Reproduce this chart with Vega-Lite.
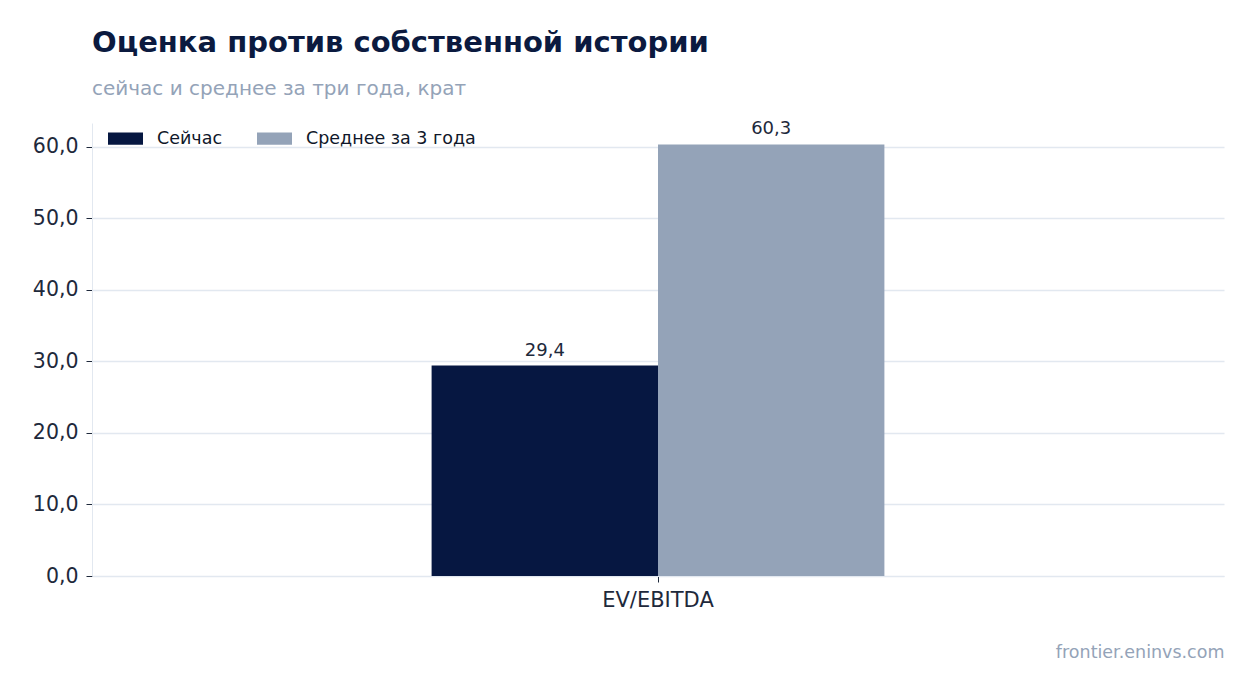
{
  "$schema": "https://vega.github.io/schema/vega-lite/v6.json",
  "width": 1132,
  "height": 453,
  "autosize": "none",
  "padding": {"left": 92, "top": 123, "right": 30, "bottom": 117},
  "title": {
    "text": "Оценка против собственной истории",
    "subtitle": "сейчас и среднее за три года, крат",
    "anchor": "start",
    "frame": "group",
    "font": "DejaVu Sans",
    "fontSize": 29,
    "fontWeight": "bold",
    "color": "#0b1a3f",
    "subtitleFont": "DejaVu Sans",
    "subtitleFontSize": 20,
    "subtitleColor": "#94a3b8",
    "subtitlePadding": 21,
    "offset": 21
  },
  "data": {
    "values": [
      {"metric": "EV/EBITDA", "series": "Сейчас", "value": 29.4},
      {"metric": "EV/EBITDA", "series": "Среднее за 3 года", "value": 60.3}
    ]
  },
  "encoding": {
    "x": {
      "field": "metric",
      "type": "nominal",
      "scale": {"paddingInner": 0, "paddingOuter": 0.75},
      "axis": {
        "labelAngle": 0,
        "labelFont": "DejaVu Sans",
        "labelFontSize": 21,
        "labelColor": "#1e293b",
        "labelPadding": 7,
        "tickColor": "#1e293b",
        "tickSize": 6,
        "domainColor": "#e2e8f0",
        "title": "frontier.eninvs.com",
        "titleAnchor": "end",
        "titleFont": "DejaVu Sans",
        "titleFontSize": 17.5,
        "titleFontWeight": "normal",
        "titleColor": "#94a3b8",
        "titlePadding": 33
      }
    },
    "xOffset": {"field": "series", "type": "nominal", "sort": ["Сейчас", "Среднее за 3 года"]}
  },
  "layer": [
    {
      "mark": {"type": "bar"},
      "encoding": {
        "y": {
          "field": "value",
          "type": "quantitative",
          "scale": {"domain": [0, 63.3], "nice": false},
          "axis": {
            "title": null,
            "values": [0, 10, 20, 30, 40, 50, 60],
            "format": ".1f",
            "labelFont": "DejaVu Sans",
            "labelFontSize": 20.5,
            "labelColor": "#1e293b",
            "labelPadding": 8,
            "tickColor": "#1e293b",
            "tickSize": 6,
            "domainColor": "#e2e8f0",
            "gridColor": "#e2e8f0",
            "gridWidth": 1.3
          }
        },
        "color": {
          "field": "series",
          "type": "nominal",
          "sort": ["Сейчас", "Среднее за 3 года"],
          "scale": {"range": ["#061741", "#94a3b8"]},
          "legend": {
            "title": null,
            "orient": "none",
            "legendX": 16,
            "legendY": -2,
            "direction": "horizontal",
            "symbolType": "M-1,-0.35H1V0.35H-1Z",
            "symbolSize": 1225,
            "symbolStrokeWidth": 0,
            "symbolOpacity": 1,
            "labelFont": "DejaVu Sans",
            "labelFontSize": 17.5,
            "labelColor": "#0f172a",
            "labelOffset": 14,
            "labelLimit": 400,
            "columnPadding": 34
          }
        }
      }
    },
    {
      "mark": {"type": "text", "dy": -6, "baseline": "bottom", "font": "DejaVu Sans", "fontSize": 18, "color": "#1e293b"},
      "encoding": {
        "y": {"field": "value", "type": "quantitative"},
        "text": {"field": "value", "type": "quantitative", "format": ".1f"}
      }
    }
  ],
  "config": {
    "locale": {"number": {"decimal": ",", "thousands": " ", "grouping": [3], "currency": ["", ""]}},
    "view": {"stroke": null},
    "axis": {"grid": false},
    "axisY": {"grid": true}
  }
}
